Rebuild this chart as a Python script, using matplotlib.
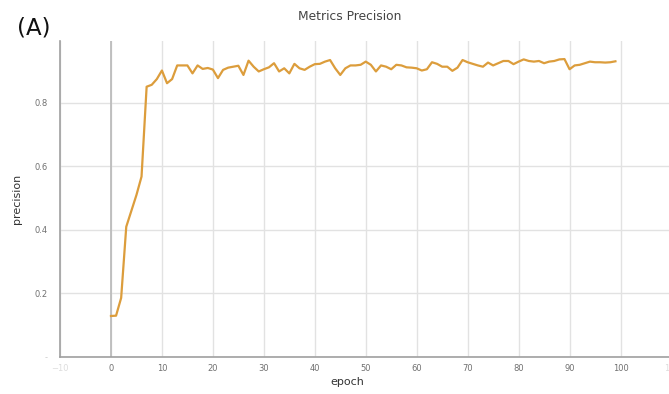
import matplotlib.pyplot as plt
import numpy as np

# precision per epoch
precision = [
    0.129, 0.130, 0.186, 0.410, 0.460, 0.510, 0.568, 0.851, 0.857, 0.875,
    0.902, 0.862, 0.875, 0.918, 0.918, 0.918, 0.893, 0.918, 0.907, 0.910,
    0.905, 0.878, 0.904, 0.911, 0.914, 0.917, 0.888, 0.933, 0.914, 0.899,
    0.906, 0.912, 0.925, 0.899, 0.909, 0.893, 0.923, 0.909, 0.904, 0.914,
    0.922, 0.923, 0.930, 0.935, 0.909, 0.888, 0.909, 0.918, 0.918, 0.920,
    0.930, 0.920, 0.899, 0.918, 0.914, 0.906, 0.920, 0.918, 0.912, 0.911,
    0.909, 0.902, 0.906, 0.928, 0.923, 0.914, 0.914, 0.901, 0.911, 0.935,
    0.928, 0.923, 0.918, 0.914, 0.927, 0.918, 0.925, 0.932, 0.932, 0.922,
    0.930, 0.937, 0.932, 0.930, 0.932, 0.925, 0.930, 0.932, 0.937, 0.938,
    0.906, 0.918, 0.920, 0.925, 0.930, 0.928, 0.928, 0.927, 0.928, 0.931,
]
epochs = np.arange(len(precision))
x_ticks = list(range(-10, 111, 10))
y_ticks = [0, 0.2, 0.4, 0.6, 0.8]
y_tick_labels = ["-", "0.2", "0.4", "0.6", "0.8"]

fig = plt.figure(figsize=(6.69, 3.94), dpi=100)
ax = fig.add_axes([0.0897, 0.094, 0.914, 0.802])

ax.plot(epochs, precision, color="#dc9d3c", linewidth=1.6, zorder=3)
ax.axvline(0, color="#b8b8b8", linewidth=1.2, zorder=1)

ax.set_xlim(-10, 110)
ax.set_ylim(0, 0.995)
ax.set_xticks(x_ticks)
ax.set_yticks(y_ticks)
ax.set_yticklabels(y_tick_labels)
ax.grid(True, color="#e2e2e2", linewidth=1)
ax.set_axisbelow(True)

for s in ["top", "right"]:
    ax.spines[s].set_visible(False)
for s in ["left", "bottom"]:
    ax.spines[s].set_color("#a0a0a0")
    ax.spines[s].set_linewidth(1.2)

ax.tick_params(axis="y", length=0, labelsize=6, colors="#707070", pad=9)
ax.tick_params(axis="x", length=0, labelsize=6, colors="#707070", pad=5)
for lab in ax.get_xticklabels():
    if lab.get_text() in ("−10", "-10", "110"):
        lab.set_color("#dddddd")
ax.get_yticklabels()[0].set_color("#cccccc")

ax.set_xlabel("epoch", fontsize=8, color="#333333")
ax.xaxis.set_label_coords((347 - 60) / 611, -0.062)
ax.set_ylabel("precision", fontsize=8, color="#333333", labelpad=9)
fig.text(0.523, 0.957, "Metrics Precision", ha="center", va="center",
         fontsize=8.8, color="#444444")
fig.text(0.026, 0.928, "(A)", ha="left", va="center", fontsize=16.5, color="#111111")

plt.savefig("out.png", dpi=100)
